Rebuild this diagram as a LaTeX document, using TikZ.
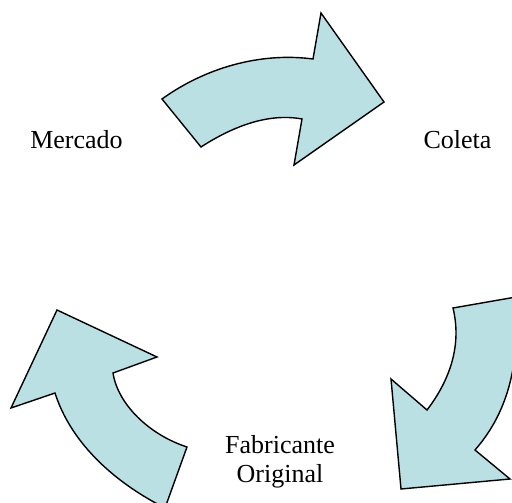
\documentclass[tikz,border=0pt]{standalone}
\usepackage{fontspec}
\setmainfont{Liberation Serif}
\definecolor{arrowfill}{RGB}{187,224,227}
\tikzset{
  curvedarrow/.style={fill=arrowfill, draw=black, line width=1.4pt, line join=miter},
  lbl/.style={anchor=base, inner sep=0pt, font=\fontsize{26}{30}\selectfont}
}
\begin{document}
\begin{tikzpicture}[x=1pt,y=-1pt]
\useasboundingbox (0,0) rectangle (512,503);
\clip (0,0) rectangle (512,503);
% top arrow (Mercado -> Coleta)
\draw[curvedarrow] (162,99) -- (201,147) .. controls (235,125) and (270,113) .. (302,119)
  -- (294,165) -- (384,102) -- (321,13) -- (313,59)
  .. controls (260,52) and (205,68) .. (162,99) -- cycle;
% right arrow (Coleta -> Fabricante Original)
\draw[curvedarrow] (453,308) .. controls (462,345) and (450,380) .. (427,410)
  -- (391,379) -- (401,489) -- (510,479) -- (475,450)
  .. controls (510,410) and (520,360) .. (516,297) -- cycle;
% left arrow (Fabricante Original -> Mercado)
\draw[curvedarrow] (57,310) -- (157,357) -- (113,373)
  .. controls (118,405) and (150,435) .. (187,447) -- (165,508)
  .. controls (110,480) and (70,440) .. (55,393) -- (11,408) -- cycle;
% labels
\node[lbl] (mercado) at (76.5,148) {Mercado};
\node[lbl] (coleta) at (457.5,148) {Coleta};
\node[lbl] (fabricante) at (280,453) {Fabricante};
\node[lbl] (original) at (280,482) {Original};
\end{tikzpicture}
\end{document}
